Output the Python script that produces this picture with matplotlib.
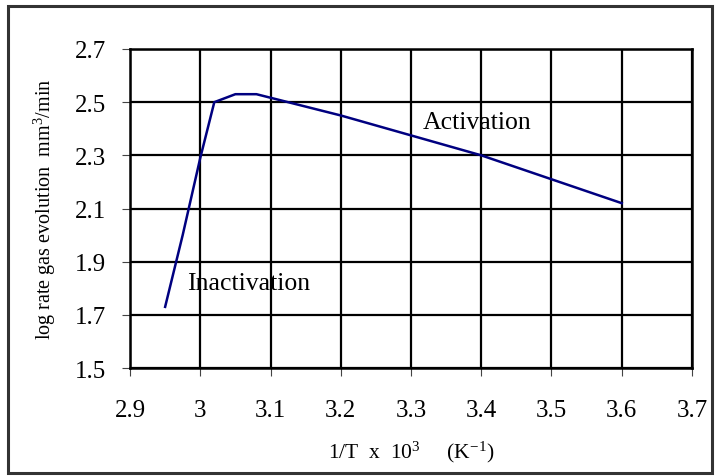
import matplotlib
matplotlib.use('Agg')
import matplotlib.pyplot as plt
from matplotlib.patches import Rectangle

# Datos
inv_T = [2.95, 2.975, 3.0, 3.02, 3.05, 3.08, 3.2, 3.4, 3.6]
log_rate = [1.73, 2.0, 2.29, 2.5, 2.53, 2.53, 2.45, 2.3, 2.12]

x_ticks = [2.9, 3.0, 3.1, 3.2, 3.3, 3.4, 3.5, 3.6, 3.7]
x_labels = ['2.9', '3', '3.1', '3.2', '3.3', '3.4', '3.5', '3.6', '3.7']
y_ticks = [1.5, 1.7, 1.9, 2.1, 2.3, 2.5, 2.7]
y_labels = ['1.5', '1.7', '1.9', '2.1', '2.3', '2.5', '2.7']

plt.rcParams['font.family'] = ['Liberation Serif', 'DejaVu Serif']
plt.rcParams['mathtext.fontset'] = 'custom'
plt.rcParams['mathtext.rm'] = 'Liberation Serif'
plt.rcParams['mathtext.it'] = 'Liberation Serif:italic'

fig = plt.figure(figsize=(7.15, 4.77), dpi=100)
ax = fig.add_axes([130 / 715, 1 - 369 / 477, 562 / 715, 319 / 477])

# Marco exterior de la figura
fig.patches.append(Rectangle((8 / 715, 3 / 477), 704 / 715, 467 / 477,
                             transform=fig.transFigure, fill=False,
                             edgecolor='#333333', linewidth=2.2))

ax.plot(inv_T, log_rate, color='#000080', linewidth=1.8, zorder=3)

ax.set_xlim(2.9, 3.7)
ax.set_ylim(1.5, 2.7)
ax.set_xticks(x_ticks)
ax.set_xticklabels(x_labels)
ax.set_yticks(y_ticks)
ax.set_yticklabels(y_labels)
ax.grid(True, color='black', linewidth=1.6)
ax.set_axisbelow(True)

for s in ax.spines.values():
    s.set_linewidth(1.8)
    s.set_color('black')

ax.tick_params(axis='both', direction='out', length=6, width=0.8, color='#444444',
               labelsize=18)
ax.tick_params(axis='x', pad=16)
ax.tick_params(axis='y', pad=11)

ax.text(3.317, 2.426, 'Activation', fontsize=18.5, ha='left', va='center')
ax.text(2.981, 1.82, 'Inactivation', fontsize=18.5, ha='left', va='center')

ax.set_xlabel('1/T  x  10$^{3}$     (K$^{\\mathregular{-1}}$)', fontsize=15.5, va='center')
ax.xaxis.set_label_coords(0.5, -0.262)
ax.set_ylabel('log rate gas evolution  mm$^{3}$/min', fontsize=14.5, va='center')
ax.yaxis.set_label_coords(-0.151, 0.5)

plt.savefig('out.png', dpi=100)
plt.close()
